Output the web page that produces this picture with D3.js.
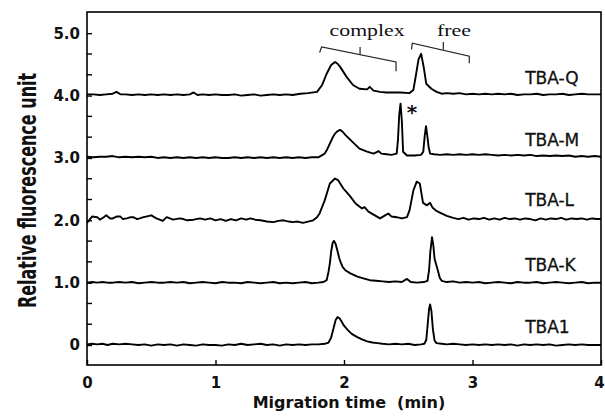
<!DOCTYPE html>
<html>
<head>
<meta charset="utf-8">
<script src="https://cdn.jsdelivr.net/npm/d3@7"></script>
<style>
  body { margin: 0; background: #fff; }
  svg { display: block; }
</style>
</head>
<body>
<svg width="605" height="416"></svg>
<script>
// traces are [time (min), signal], each drawn on top of its offset
const seriesNames = ['TBA1', 'TBA-K', 'TBA-L', 'TBA-M', 'TBA-Q'];
const offsets = [0, 1, 2, 3, 4];

const tba1 = [
  [0.00,0.01],[0.04,0.02],[0.08,0.01],[0.12,0.02],[0.16,0.00],[0.20,0.02],[0.25,0.01],[0.30,0.02],[0.35,0.01],[0.40,0.00],
  [0.45,0.01],[0.50,-0.01],[0.55,0.01],[0.60,0.00],[0.65,0.01],[0.70,-0.01],[0.75,0.01],[0.80,0.00],[0.85,-0.01],[0.90,0.01],
  [0.95,0.00],[1.00,0.00],[1.05,-0.01],[1.10,0.01],[1.15,0.00],[1.20,0.02],[1.25,0.00],[1.30,0.01],[1.35,0.02],[1.40,0.00],
  [1.45,0.01],[1.50,-0.01],[1.55,0.01],[1.60,0.00],[1.65,0.01],[1.70,0.00],[1.75,0.01],[1.80,0.01],[1.85,0.02],[1.88,0.04],
  [1.90,0.12],[1.92,0.28],[1.935,0.40],[1.95,0.45],[1.965,0.43],[1.98,0.38],[2.00,0.31],[2.03,0.24],[2.06,0.18],[2.10,0.13],
  [2.14,0.09],[2.18,0.06],[2.22,0.04],[2.26,0.03],[2.30,0.02],[2.35,0.01],[2.40,0.02],[2.45,0.01],[2.50,0.02],[2.55,0.00],
  [2.60,0.01],[2.625,0.02],[2.64,0.08],[2.652,0.35],[2.662,0.58],[2.67,0.65],[2.68,0.55],[2.692,0.25],[2.705,0.07],[2.72,0.03],
  [2.76,0.02],[2.80,0.01],[2.85,0.02],[2.90,0.01],[2.95,0.00],[3.00,0.01],[3.05,0.00],[3.10,0.01],[3.15,0.00],[3.20,0.01],
  [3.25,0.00],[3.30,0.01],[3.35,-0.01],[3.40,0.01],[3.45,0.00],[3.50,0.01],[3.55,0.00],[3.60,0.01],[3.65,-0.01],[3.70,0.00],
  [3.75,0.01],[3.80,0.00],[3.85,0.01],[3.90,0.00],[3.95,0.00],[4.00,0.00]
];

const tbaK = [
  [0.00,0.00],[0.04,0.01],[0.08,0.00],[0.12,0.01],[0.16,0.00],[0.20,0.00],[0.25,0.01],[0.30,0.00],[0.35,0.01],[0.40,-0.01],
  [0.45,0.00],[0.50,0.01],[0.55,0.00],[0.60,0.00],[0.65,0.01],[0.70,0.00],[0.75,0.01],[0.80,-0.01],[0.85,0.00],[0.90,0.01],
  [0.95,0.00],[1.00,-0.01],[1.05,0.01],[1.10,0.00],[1.15,0.00],[1.20,-0.01],[1.25,0.01],[1.30,0.00],[1.35,-0.01],[1.40,0.00],
  [1.45,0.01],[1.50,-0.01],[1.55,0.00],[1.60,-0.01],[1.65,0.00],[1.70,0.01],[1.75,-0.01],[1.80,0.00],[1.84,0.01],[1.865,0.04],
  [1.88,0.18],[1.89,0.31],[1.90,0.50],[1.912,0.64],[1.922,0.67],[1.935,0.62],[1.948,0.52],[1.962,0.40],[1.975,0.32],[1.99,0.25],
  [2.01,0.20],[2.05,0.15],[2.10,0.10],[2.15,0.07],[2.20,0.04],[2.25,0.03],[2.30,0.02],[2.35,0.01],[2.40,0.02],[2.45,0.01],
  [2.49,0.06],[2.52,0.01],[2.57,0.00],[2.62,0.01],[2.65,0.03],[2.662,0.20],[2.672,0.50],[2.685,0.73],[2.695,0.60],[2.705,0.38],
  [2.72,0.27],[2.73,0.20],[2.745,0.08],[2.76,0.03],[2.80,0.01],[2.85,0.02],[2.90,0.00],[2.95,0.01],[3.00,0.00],[3.05,0.01],
  [3.10,-0.01],[3.15,0.00],[3.20,0.01],[3.25,0.00],[3.30,-0.01],[3.35,0.01],[3.40,0.00],[3.45,0.00],[3.50,0.01],[3.55,-0.01],
  [3.60,0.00],[3.65,0.01],[3.70,0.00],[3.75,-0.01],[3.80,0.00],[3.85,0.01],[3.90,-0.01],[3.95,0.00],[4.00,0.00]
];

const tbaL = [
  [0.00,-0.04],[0.02,0.01],[0.04,0.06],[0.08,0.05],[0.10,0.01],[0.13,0.05],[0.15,0.08],[0.18,0.03],[0.20,0.03],[0.23,0.06],
  [0.26,0.06],[0.28,0.02],[0.31,0.03],[0.34,0.05],[0.36,0.05],[0.39,0.02],[0.41,0.03],[0.44,0.05],[0.46,0.06],[0.50,0.08],
  [0.54,0.03],[0.59,-0.01],[0.62,0.05],[0.67,0.01],[0.72,0.03],[0.75,0.02],[0.78,0.00],[0.83,0.01],[0.88,0.03],[0.92,0.01],
  [0.96,0.03],[1.00,0.00],[1.04,0.02],[1.08,-0.01],[1.12,0.02],[1.16,0.00],[1.20,0.03],[1.24,0.01],[1.27,0.03],[1.31,0.01],
  [1.35,0.00],[1.40,-0.02],[1.45,-0.03],[1.49,-0.01],[1.53,0.00],[1.57,-0.02],[1.60,-0.03],[1.64,-0.02],[1.68,-0.04],[1.72,-0.02],
  [1.76,0.00],[1.79,0.05],[1.81,0.11],[1.85,0.32],[1.89,0.59],[1.93,0.67],[1.956,0.64],[1.995,0.51],[2.02,0.45],[2.05,0.38],
  [2.09,0.27],[2.14,0.19],[2.16,0.21],[2.19,0.14],[2.24,0.08],[2.28,0.03],[2.32,0.08],[2.345,0.11],[2.37,0.06],[2.41,0.05],
  [2.45,0.03],[2.49,0.05],[2.51,0.16],[2.54,0.48],[2.566,0.62],[2.59,0.59],[2.615,0.28],[2.646,0.24],[2.67,0.28],[2.69,0.20],
  [2.72,0.15],[2.75,0.12],[2.80,0.07],[2.85,0.04],[2.89,0.02],[2.93,0.04],[2.97,0.01],[3.01,0.03],[3.05,0.02],[3.09,0.04],
  [3.13,0.01],[3.17,0.03],[3.21,0.01],[3.25,0.04],[3.29,0.02],[3.33,0.03],[3.37,0.01],[3.41,0.03],[3.45,0.02],[3.49,0.00],
  [3.53,0.03],[3.57,0.01],[3.61,0.03],[3.65,0.02],[3.69,0.04],[3.73,0.01],[3.77,0.03],[3.81,0.02],[3.85,0.03],[3.89,0.01],
  [3.93,0.03],[3.97,0.02],[4.00,0.02]
];

const tbaM = [
  [0.00,0.02],[0.05,0.01],[0.10,0.02],[0.15,0.02],[0.20,0.03],[0.25,0.01],[0.30,0.02],[0.35,0.01],[0.40,0.02],[0.45,0.01],
  [0.50,0.02],[0.55,0.00],[0.60,0.01],[0.65,0.00],[0.70,0.01],[0.75,0.00],[0.80,0.01],[0.85,0.00],[0.90,0.01],[0.95,0.00],
  [1.00,0.01],[1.05,0.00],[1.10,0.00],[1.15,0.01],[1.20,0.00],[1.25,0.01],[1.30,0.00],[1.35,0.01],[1.40,0.00],[1.45,0.01],
  [1.50,0.00],[1.55,0.01],[1.60,0.00],[1.65,0.01],[1.70,0.00],[1.75,0.01],[1.80,0.01],[1.85,0.07],[1.87,0.14],[1.89,0.23],
  [1.91,0.32],[1.93,0.39],[1.95,0.43],[1.97,0.45],[1.99,0.42],[2.01,0.37],[2.05,0.29],[2.09,0.21],[2.12,0.15],[2.18,0.10],
  [2.23,0.07],[2.27,0.11],[2.29,0.07],[2.33,0.06],[2.37,0.05],[2.41,0.07],[2.42,0.29],[2.43,0.70],[2.44,0.87],[2.45,0.60],
  [2.46,0.10],[2.49,0.04],[2.55,0.04],[2.60,0.05],[2.617,0.10],[2.628,0.35],[2.638,0.51],[2.648,0.36],[2.658,0.18],[2.67,0.07],
  [2.70,0.06],[2.75,0.05],[2.80,0.06],[2.85,0.05],[2.90,0.06],[2.95,0.05],[3.00,0.06],[3.05,0.05],[3.10,0.06],[3.15,0.05],
  [3.20,0.04],[3.25,0.05],[3.30,0.04],[3.35,0.05],[3.40,0.04],[3.45,0.05],[3.50,0.03],[3.55,0.04],[3.60,0.03],[3.65,0.04],
  [3.70,0.03],[3.75,0.04],[3.80,0.02],[3.85,0.03],[3.90,0.02],[3.95,0.03],[4.00,0.02]
];

const tbaQ = [
  [0.00,0.02],[0.05,0.02],[0.10,0.01],[0.15,0.02],[0.20,0.03],[0.23,0.06],[0.26,0.02],[0.30,0.02],[0.35,0.01],[0.40,0.02],
  [0.45,0.01],[0.50,0.02],[0.55,0.01],[0.60,0.02],[0.65,0.01],[0.70,0.02],[0.75,0.01],[0.80,0.02],[0.83,0.05],[0.86,0.01],
  [0.90,0.02],[0.95,0.01],[1.00,0.02],[1.05,0.01],[1.10,0.01],[1.15,0.02],[1.20,0.00],[1.25,0.01],[1.30,0.02],[1.35,0.00],
  [1.40,0.01],[1.45,0.02],[1.50,0.01],[1.55,0.02],[1.60,0.01],[1.66,0.03],[1.72,0.04],[1.79,0.06],[1.83,0.17],[1.865,0.35],
  [1.90,0.49],[1.93,0.54],[1.95,0.51],[1.97,0.46],[2.02,0.30],[2.07,0.17],[2.12,0.11],[2.18,0.10],[2.20,0.14],[2.23,0.08],
  [2.28,0.06],[2.33,0.05],[2.38,0.05],[2.44,0.05],[2.51,0.04],[2.54,0.09],[2.56,0.33],[2.58,0.58],[2.60,0.67],[2.62,0.46],
  [2.64,0.19],[2.68,0.11],[2.72,0.06],[2.76,0.03],[2.80,0.04],[2.85,0.03],[2.90,0.04],[2.95,0.02],[3.00,0.03],[3.05,0.02],
  [3.10,0.03],[3.15,0.02],[3.20,0.03],[3.25,0.02],[3.30,0.03],[3.35,0.01],[3.40,0.02],[3.45,0.02],[3.50,0.03],[3.55,0.01],
  [3.60,0.02],[3.65,0.02],[3.70,0.03],[3.75,0.01],[3.80,0.02],[3.85,0.03],[3.90,0.02],[3.95,0.02],[4.00,0.02]
];

const traces = [tba1, tbaK, tbaL, tbaM, tbaQ];

const xTicks = [0, 1, 2, 3, 4];
const xTickLabels = ['0', '1', '2', '3', '4'];
const yTicks = [0, 1, 2, 3, 4, 5];
const yTickLabels = ['0', '1.0', '2.0', '3.0', '4.0', '5.0'];
const yMinorTicks = [1/3, 2/3, 4/3, 5/3, 7/3, 8/3, 10/3, 11/3, 13/3, 14/3];

// annotation brackets, in axis units
const complexBracket = [[1.81, 4.69], [1.826, 4.78], [2.405, 4.54], [2.405, 4.39]];
const complexTick = [[2.125, 4.655], [2.125, 4.78]];
const freeBracket = [[2.525, 4.74], [2.532, 4.84], [2.975, 4.63], [2.975, 4.52]];
const freeTick = [[2.773, 4.735], [2.773, 4.86]];

const svg = d3.select('svg');
const width = +svg.attr('width');
const height = +svg.attr('height');

const xScale = d3.scaleLinear().domain([0, 4]).range([87, 601]);
const yScale = d3.scaleLinear().domain([-0.32, 5.34]).range([365, 12]);

const boldFont = 'DejaVu Sans, sans-serif';

// frame
svg.append('rect')
  .attr('x', xScale.range()[0])
  .attr('y', yScale.range()[1])
  .attr('width', xScale.range()[1] - xScale.range()[0])
  .attr('height', yScale.range()[0] - yScale.range()[1])
  .attr('fill', 'none')
  .attr('stroke', '#000')
  .attr('stroke-width', 1.6);

// y axis, ticks pointing in
const yAxis = svg.append('g')
  .attr('transform', `translate(${xScale(0)},0)`)
  .call(d3.axisLeft(yScale)
    .tickValues(yTicks)
    .tickFormat((d, i) => yTickLabels[i])
    .tickSizeInner(-5)
    .tickSizeOuter(0)
    .tickPadding(7));
yAxis.select('.domain').remove();
yAxis.selectAll('text')
  .attr('font-family', boldFont)
  .attr('font-weight', 'bold')
  .attr('font-size', 15)
  .attr('fill', '#111');
yAxis.selectAll('line').attr('stroke-width', 1.4);

svg.append('g')
  .selectAll('line').data(yMinorTicks)
  .enter().append('line')
  .attr('x1', xScale(0))
  .attr('x2', xScale(0) + 5)
  .attr('y1', d => yScale(d))
  .attr('y2', d => yScale(d))
  .attr('stroke', '#000')
  .attr('stroke-width', 1.4);

// x axis
const xAxis = svg.append('g')
  .attr('transform', `translate(0,${yScale(-0.32)})`)
  .call(d3.axisBottom(xScale)
    .tickValues(xTicks)
    .tickFormat((d, i) => xTickLabels[i])
    .tickSizeInner(-5)
    .tickSizeOuter(0)
    .tickPadding(12));
xAxis.select('.domain').remove();
xAxis.selectAll('text')
  .attr('font-family', boldFont)
  .attr('font-weight', 'bold')
  .attr('font-size', 15)
  .attr('fill', '#111')
  .attr('dx', d => d === 4 ? -2 : 0);
xAxis.selectAll('line').attr('stroke-width', 1.4);

// axis titles
svg.append('text')
  .attr('x', (xScale.range()[0] + xScale.range()[1]) / 2 + 5)
  .attr('y', 408)
  .attr('text-anchor', 'middle')
  .attr('font-family', boldFont)
  .attr('font-weight', 'bold')
  .attr('font-size', 16)
  .attr('fill', '#111')
  .attr('xml:space', 'preserve')
  .text('Migration time  (min)');

svg.append('text')
  .attr('transform', `translate(36,${(yScale.range()[0] + yScale.range()[1]) / 2 + 2}) scale(1.5,1) rotate(-90)`)
  .attr('text-anchor', 'middle')
  .attr('font-family', boldFont)
  .attr('font-weight', 'bold')
  .attr('font-size', 16)
  .attr('fill', '#111')
  .text('Relative fluorescence unit');

// traces
const line = d3.line()
  .x(d => xScale(d[0]))
  .y(d => yScale(d[1]));

svg.append('g')
  .selectAll('path').data(traces)
  .enter().append('path')
  .attr('d', (d, i) => line(d.map(p => [p[0], p[1] + offsets[i]])))
  .attr('fill', 'none')
  .attr('stroke', '#000')
  .attr('stroke-width', 1.9)
  .attr('stroke-linejoin', 'round');

// series labels
svg.append('g')
  .selectAll('text').data(seriesNames)
  .enter().append('text')
  .attr('x', xScale(3.41))
  .attr('y', (d, i) => yScale(offsets[i] + (d === 'TBA-L' ? 0.23 : 0.19)))
  .attr('font-family', boldFont)
  .attr('font-size', 17)
  .attr('fill', '#111')
  .attr('stroke', '#111')
  .attr('stroke-width', 0.3)
  .text(d => d);

// brackets
const bracketLine = d3.line()
  .x(d => xScale(d[0]))
  .y(d => yScale(d[1]));

[complexBracket, complexTick, freeBracket, freeTick].forEach(b => {
  svg.append('path')
    .attr('d', bracketLine(b))
    .attr('fill', 'none')
    .attr('stroke', '#222')
    .attr('stroke-width', 1.2);
});

svg.append('text')
  .attr('x', xScale(2.18))
  .attr('y', yScale(4.95))
  .attr('text-anchor', 'middle')
  .attr('font-family', 'Liberation Serif, serif')
  .attr('font-size', 17)
  .attr('textLength', 75)
  .attr('lengthAdjust', 'spacingAndGlyphs')
  .attr('fill', '#111')
  .text('complex');

svg.append('text')
  .attr('x', xScale(2.856))
  .attr('y', yScale(4.95))
  .attr('text-anchor', 'middle')
  .attr('font-family', 'Liberation Serif, serif')
  .attr('font-size', 17)
  .attr('textLength', 34)
  .attr('lengthAdjust', 'spacingAndGlyphs')
  .attr('fill', '#111')
  .text('free');

svg.append('text')
  .attr('x', xScale(2.53))
  .attr('y', yScale(3.62))
  .attr('text-anchor', 'middle')
  .attr('font-family', boldFont)
  .attr('font-weight', 'bold')
  .attr('font-size', 20)
  .attr('fill', '#111')
  .text('*');
</script>
</body>
</html>
